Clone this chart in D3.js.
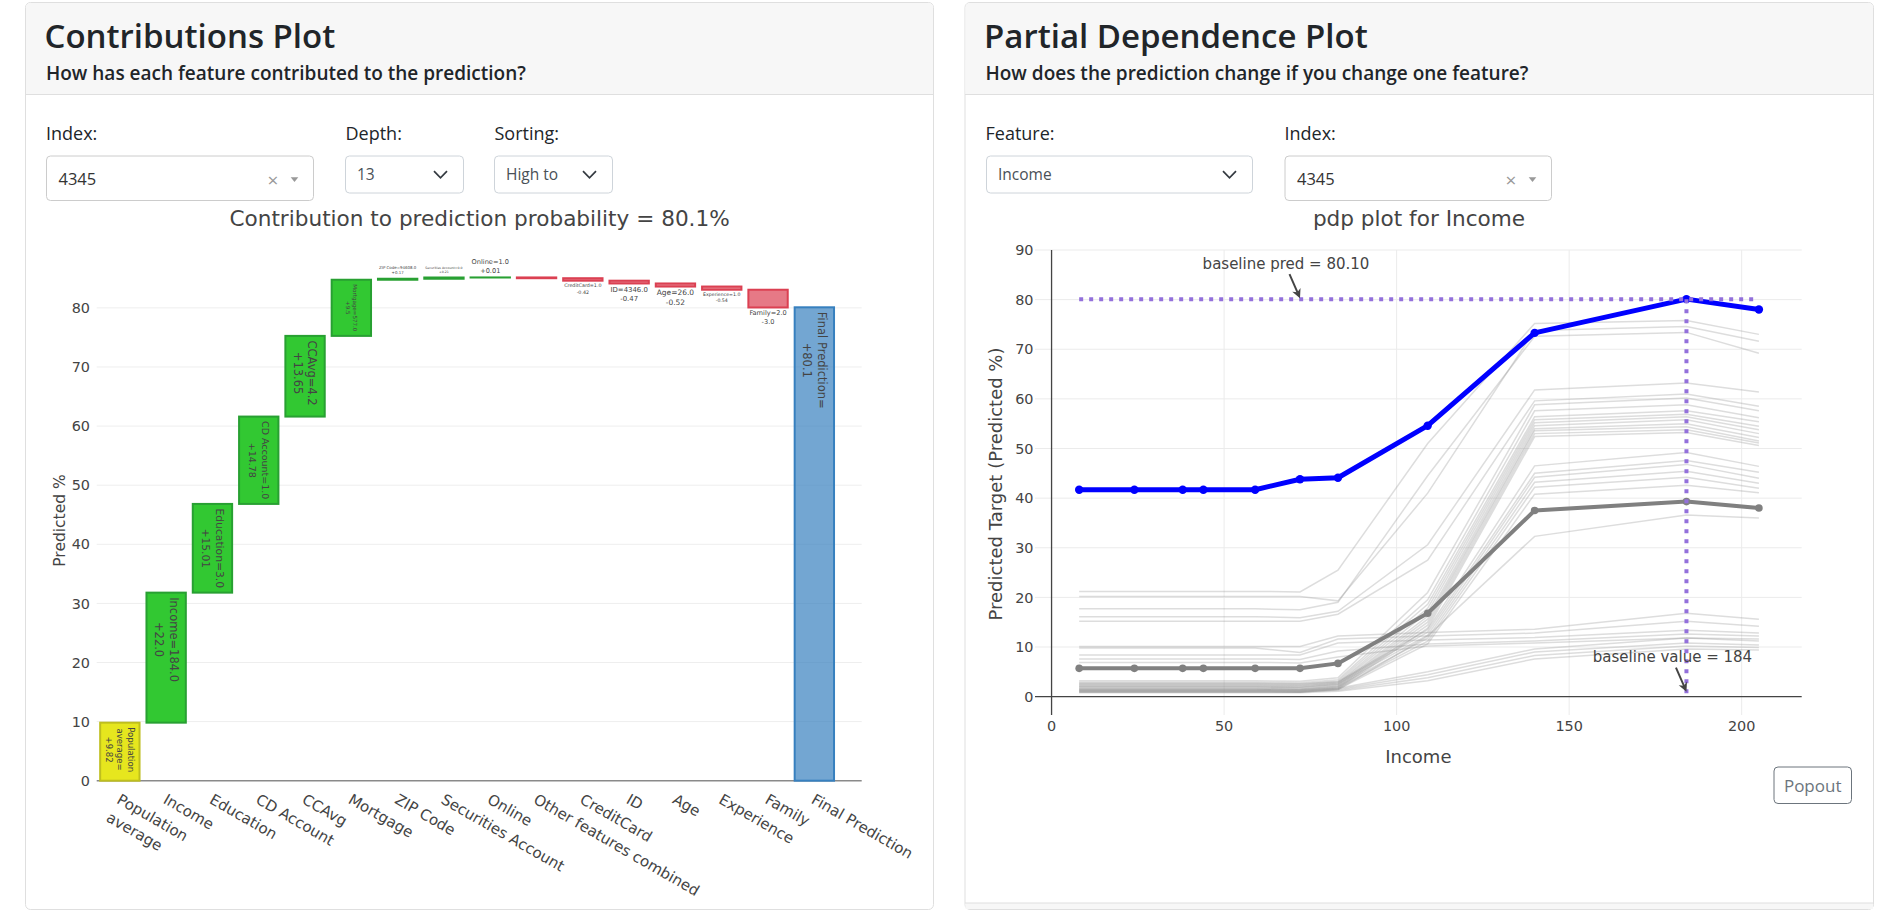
<!DOCTYPE html>
<html>
<head>
<meta charset="utf-8">
<script src="https://cdn.jsdelivr.net/npm/d3@7"></script>
<style>
    body { margin: 0; background: #fff; }
</style>
</head>
<body>
<svg id="page"></svg>
<script>
// ---- contributions (waterfall) data ----
const contribFeatures = ["Population<br>average", "Income", "Education", "CD Account", "CCAvg", "Mortgage",
    "ZIP Code", "Securities Account", "Online", "Other features combined", "CreditCard", "ID", "Age",
    "Experience", "Family", "Final Prediction"];
const contribValues = [9.82, 22.0, 15.01, 14.78, 13.65, 9.5, 0.17, 0.21, 0.01, -0.13, -0.42, -0.47, -0.52, -0.54, -3.0, 80.1];
const contribLabels = ["Population<br>average=<br>+9.82", "Income=184.0<br>+22.0", "Education=3.0<br>+15.01",
    "CD Account=1.0<br>+14.78", "CCAvg=4.2<br>+13.65", "Mortgage=577.0<br>+9.5", "ZIP Code=94608.0<br>+0.17",
    "Securities Account=0.0<br>+0.21", "Online=1.0<br>+0.01", "", "CreditCard=1.0<br>-0.42", "ID=4346.0<br>-0.47",
    "Age=26.0<br>-0.52", "Experience=1.0<br>-0.54", "Family=2.0<br>-3.0", "Final Prediction=<br>+80.1"];

// ---- partial dependence data ----
const pdpGrid  = [8, 24, 38, 44, 59, 72, 83, 109, 140, 184, 205];
const pdpIndex = [41.7, 41.7, 41.7, 41.7, 41.7, 43.8, 44.1, 54.6, 73.3, 80.1, 78.0];
const pdpMean  = [5.7, 5.7, 5.7, 5.7, 5.7, 5.7, 6.7, 16.8, 37.5, 39.3, 38.0];
const pdpIce = [
    [21.2, 21.2, 21.2, 21.2, 21.2, 21.1, 25.5, 51.0, 75.2, 75.8, 73.0],
    [20.2, 20.2, 20.2, 20.2, 20.2, 20.2, 19.3, 41.0, 73.8, 74.6, 71.6],
    [17.7, 17.7, 17.7, 17.7, 17.7, 17.5, 19.0, 44.5, 72.6, 73.4, 69.2],
    [16.1, 16.1, 16.1, 16.1, 16.1, 15.9, 17.2, 30.6, 61.8, 63.2, 61.4],
    [15.2, 15.2, 15.2, 15.2, 15.2, 15.2, 16.6, 27.5, 59.6, 61.0, 58.5],
    [3.2, 3.2, 3.2, 3.2, 3.2, 3.1, 3.8, 21.0, 58.8, 60.2, 57.6],
    [2.9, 2.9, 2.9, 2.9, 2.9, 2.8, 3.4, 19.5, 57.6, 58.8, 56.2],
    [2.6, 2.6, 2.6, 2.6, 2.6, 2.5, 3.1, 18.6, 56.4, 57.6, 55.4],
    [2.3, 2.3, 2.3, 2.3, 2.3, 2.2, 2.8, 17.8, 55.8, 56.9, 54.5],
    [2.1, 2.1, 2.1, 2.1, 2.1, 2.0, 2.6, 17.0, 55.2, 56.4, 53.8],
    [1.9, 1.9, 1.9, 1.9, 1.9, 1.8, 2.4, 16.2, 54.6, 55.8, 53.0],
    [1.7, 1.7, 1.7, 1.7, 1.7, 1.6, 2.2, 15.6, 54.0, 55.0, 52.2],
    [1.5, 1.5, 1.5, 1.5, 1.5, 1.4, 2.0, 15.0, 53.6, 54.4, 51.5],
    [1.3, 1.3, 1.3, 1.3, 1.3, 1.2, 1.8, 14.4, 53.0, 53.8, 51.1],
    [1.1, 1.1, 1.1, 1.1, 1.1, 1.0, 1.6, 13.8, 52.4, 53.2, 50.6],
    [2.7, 2.7, 2.7, 2.7, 2.7, 2.6, 3.0, 13.5, 46.5, 49.2, 46.4],
    [2.4, 2.4, 2.4, 2.4, 2.4, 2.3, 2.8, 13.0, 45.0, 47.6, 45.2],
    [2.0, 2.0, 2.0, 2.0, 2.0, 1.9, 2.5, 12.4, 44.2, 46.8, 44.0],
    [1.6, 1.6, 1.6, 1.6, 1.6, 1.5, 2.1, 11.8, 43.2, 45.4, 43.0],
    [1.3, 1.3, 1.3, 1.3, 1.3, 1.2, 1.8, 11.2, 42.2, 44.2, 42.0],
    [1.0, 1.0, 1.0, 1.0, 1.0, 0.9, 1.5, 10.6, 40.8, 42.6, 41.1],
    [0.9, 0.9, 0.9, 0.9, 0.9, 0.9, 1.4, 12.2, 32.3, 36.6, 36.0],
    [1.4, 1.4, 1.4, 1.4, 1.4, 1.4, 1.7, 5.0, 9.6, 11.8, 11.2],
    [1.2, 1.2, 1.2, 1.2, 1.2, 1.2, 1.5, 4.4, 9.0, 10.8, 10.4],
    [1.0, 1.0, 1.0, 1.0, 1.0, 1.0, 1.3, 3.8, 8.3, 10.2, 9.9],
    [0.8, 0.8, 0.8, 0.8, 0.8, 0.8, 1.1, 3.2, 7.6, 9.6, 9.4],
    [10.1, 10.1, 10.1, 10.1, 10.1, 10.1, 12.2, 12.9, 13.6, 16.8, 15.6],
    [9.8, 9.8, 9.8, 9.8, 9.8, 8.9, 11.6, 12.2, 12.8, 15.2, 14.2],
    [8.4, 8.4, 8.4, 8.4, 8.4, 8.4, 10.8, 11.4, 11.9, 13.4, 12.8],
    [7.6, 7.6, 7.6, 7.6, 7.6, 7.5, 9.2, 10.6, 11.2, 12.6, 12.2],
    [6.9, 6.9, 6.9, 6.9, 6.9, 6.8, 8.0, 10.2, 10.8, 11.8, 11.6]
];
const baselinePred = 80.10;
const baselineValue = 184;

function init() {
    const width = 1878;
    const height = 910;
    const uiFont = "'Open Sans', 'Noto Sans', sans-serif";
    const plotFont = "'DejaVu Sans', Verdana, sans-serif";

    const svg = d3.select("#page")
                  .attr("width", width)
                  .attr("height", height)
                  .style("display", "block");

    // ---------------- cards / bootstrap chrome ----------------
    function drawCard(x0, x1, title, subtitle) {
        const g = svg.append("g");
        g.append("rect")
         .attr("x", x0).attr("y", 2.5)
         .attr("width", x1 - x0).attr("height", 907)
         .attr("rx", 5)
         .attr("fill", "#fff").attr("stroke", "#dfdfdf");
        g.append("rect")
         .attr("x", x0 + 0.5).attr("y", 3)
         .attr("width", x1 - x0 - 1).attr("height", 91.5)
         .attr("rx", 4.5).attr("fill", "#f7f7f7");
        g.append("rect")
         .attr("x", x0 + 0.5).attr("y", 60)
         .attr("width", x1 - x0 - 1).attr("height", 34.5)
         .attr("fill", "#f7f7f7");
        g.append("line")
         .attr("x1", x0).attr("x2", x1)
         .attr("y1", 94.5).attr("y2", 94.5)
         .attr("stroke", "#dfdfdf");
        g.append("text")
         .attr("x", x0 + 19).attr("y", 47.7)
         .style("font-family", uiFont).style("font-size", "33px").style("font-weight", 600)
         .attr("fill", "#212529")
         .text(title);
        g.append("text")
         .attr("x", x0 + 20.5).attr("y", 80)
         .style("font-family", uiFont).style("font-size", "19px").style("font-weight", 600)
         .attr("fill", "#212529")
         .text(subtitle);
    }

    function label(x, text) {
        svg.append("text")
           .attr("x", x).attr("y", 140)
           .style("font-family", uiFont).style("font-size", "18px")
           .attr("fill", "#212529")
           .text(text);
    }

    // bootstrap custom-select with chevron
    function selectBox(x, w, text) {
        const g = svg.append("g");
        g.append("rect")
         .attr("x", x).attr("y", 156).attr("width", w).attr("height", 37)
         .attr("rx", 4).attr("fill", "#fff").attr("stroke", "#ced4da");
        g.append("text")
         .attr("x", x + 11.5).attr("y", 180)
         .style("font-family", uiFont).style("font-size", "15.5px")
         .attr("fill", "#495057")
         .text(text);
        const cx = x + w - 23, cy = 174.5;
        g.append("path")
         .attr("d", `M${cx - 6.5},${cy - 3.3} L${cx},${cy + 3.3} L${cx + 6.5},${cy - 3.3}`)
         .attr("fill", "none").attr("stroke", "#343a40").attr("stroke-width", 1.7);
    }

    // react-select style dropdown with clear cross and caret
    function reactSelect(x, w, text) {
        const g = svg.append("g");
        g.append("rect")
         .attr("x", x).attr("y", 156).attr("width", w).attr("height", 44.5)
         .attr("rx", 4).attr("fill", "#fff").attr("stroke", "#cccccc");
        g.append("text")
         .attr("x", x + 12).attr("y", 185)
         .style("font-family", uiFont).style("font-size", "16.5px")
         .attr("fill", "#333")
         .text(text);
        g.append("text")
         .attr("x", x + w - 40.5).attr("y", 186.5)
         .attr("text-anchor", "middle")
         .style("font-family", uiFont).style("font-size", "19px")
         .attr("fill", "#999")
         .text("×");
        const cx = x + w - 19, cy = 179.5;
        g.append("path")
         .attr("d", `M${cx - 3.8},${cy - 2.2} L${cx + 3.8},${cy - 2.2} L${cx},${cy + 2.4} Z`)
         .attr("fill", "#999");
    }

    drawCard(25.5, 933.5, "Contributions Plot", "How has each feature contributed to the prediction?");
    drawCard(965, 1873.5, "Partial Dependence Plot", "How does the prediction change if you change one feature?");

    // footer strip of the right card
    svg.append("rect").attr("x", 965.5).attr("y", 903).attr("width", 907.5).attr("height", 6)
       .attr("fill", "#f7f7f7");
    svg.append("line").attr("x1", 965).attr("x2", 1873.5).attr("y1", 903).attr("y2", 903)
       .attr("stroke", "#dfdfdf");

    label(46, "Index:");
    label(345.5, "Depth:");
    label(494.5, "Sorting:");
    reactSelect(46.5, 267, "4345");
    selectBox(345.5, 118, "13");
    selectBox(494.5, 118, "High to");

    label(985.5, "Feature:");
    label(1284.5, "Index:");
    selectBox(986.5, 266, "Income");
    reactSelect(1285, 266.5, "4345");

    // Popout button
    svg.append("rect")
       .attr("x", 1774).attr("y", 767).attr("width", 77.5).attr("height", 36.5)
       .attr("rx", 4).attr("fill", "#fff").attr("stroke", "#6c757d");
    svg.append("text")
       .attr("x", 1812.7).attr("y", 791.5)
       .attr("text-anchor", "middle")
       .style("font-family", uiFont).style("font-size", "17px")
       .attr("fill", "#6c757d")
       .text("Popout");

    // ---------------- contributions plot ----------------
    const cLeft = 96.7, cRight = 861.7;

    const x = d3.scaleBand()
                .domain(contribFeatures)
                .range([cLeft, 837.5])
                .paddingInner(0.15)
                .paddingOuter(0.075);

    const y = d3.scaleLinear()
                .domain([0, 88])
                .range([780.7, 260.6]);

    svg.append("text")
       .attr("x", 479.6).attr("y", 225.5)
       .attr("text-anchor", "middle")
       .style("font-family", plotFont).style("font-size", "21.6px")
       .attr("fill", "#444")
       .text("Contribution to prediction probability = 80.1%");

    const cTicks = y.ticks(9);

    svg.append("g")
       .selectAll("line")
       .data(cTicks.filter(d => d > 0))
       .enter()
       .append("line")
       .attr("x1", cLeft).attr("x2", cRight)
       .attr("y1", d => y(d)).attr("y2", d => y(d))
       .attr("stroke", "#eeeeee").attr("stroke-width", 1);

    svg.append("g")
       .selectAll("text")
       .data(cTicks)
       .enter()
       .append("text")
       .attr("x", 90).attr("y", d => y(d))
       .attr("dy", "0.36em")
       .attr("text-anchor", "end")
       .style("font-family", plotFont).style("font-size", "14.4px")
       .attr("fill", "#444")
       .text(d => d);

    svg.append("line")
       .attr("x1", cLeft).attr("x2", cRight)
       .attr("y1", y(0)).attr("y2", y(0))
       .attr("stroke", "#8a8a8a").attr("stroke-width", 1.6);

    svg.append("text")
       .attr("transform", `translate(65,520.5) rotate(-90)`)
       .attr("text-anchor", "middle")
       .style("font-family", plotFont).style("font-size", "15.5px")
       .attr("fill", "#444")
       .text("Predicted %");

    // waterfall bases
    let running = 0;
    const bars = contribFeatures.map((f, i) => {
        const v = contribValues[i];
        const last = i === contribFeatures.length - 1;
        const base = last ? 0 : running;
        if (!last) running += v;
        let kind = v >= 0 ? "pos" : "neg";
        if (i === 0) kind = "base";
        if (last) kind = "final";
        return { feature: f, value: v, base: base, end: base + v, label: contribLabels[i], kind: kind };
    });

    const fills = { base: "rgba(230,230,30,1)", pos: "rgba(50,200,50,1)", neg: "rgba(219,64,82,0.7)", final: "rgba(55,128,191,0.7)" };
    const strokes = { base: "rgb(190,190,30)", pos: "rgb(40,160,50)", neg: "rgb(219,64,82)", final: "rgb(55,128,191)" };

    const bw = x.bandwidth();

    svg.append("g")
       .selectAll("rect")
       .data(bars)
       .enter()
       .append("rect")
       .attr("x", d => x(d.feature))
       .attr("width", bw)
       .attr("y", d => y(Math.max(d.base, d.end)))
       .attr("height", d => Math.abs(y(d.base) - y(d.end)))
       .attr("fill", d => fills[d.kind])
       .attr("stroke", d => strokes[d.kind])
       .attr("stroke-width", 2);

    // bar labels, shrunk to fit like plotly does
    const labelG = svg.append("g")
                      .style("font-family", plotFont)
                      .attr("fill", "#444");
    const baseSize = 11.5;
    const lh = 1.3;

    bars.forEach(d => {
        if (!d.label) return;
        const lines = d.label.split("<br>");
        const n = lines.length;
        const top = y(Math.max(d.base, d.end));
        const bottom = y(Math.min(d.base, d.end));
        const h = bottom - top;
        const cx = x(d.feature) + bw / 2;
        const g = labelG.append("g");
        const texts = lines.map(l => g.append("text")
                                      .attr("text-anchor", "middle")
                                      .style("font-size", baseSize + "px")
                                      .text(l));
        const maxLen = d3.max(texts, t => t.node().getComputedTextLength());

        if (h > 20) {
            // inside, rotated, anchored at the top of the bar
            const pad = 4.5;
            const s = Math.min(1, (h - 2 * pad) / maxLen, (bw - 6) / (n * lh * baseSize));
            const fs = baseSize * s;
            g.attr("transform", `translate(${cx},${top + pad}) rotate(90)`);
            texts.forEach((t, i) => {
                t.style("font-size", fs + "px")
                 .attr("x", maxLen * s / 2)
                 .attr("y", (i - (n - 1) / 2) * lh * fs)
                 .attr("dy", "0.35em");
            });
        } else {
            // outside, horizontal
            const s = Math.min(1, (bw - 2) / maxLen);
            const fs = baseSize * s;
            texts.forEach((t, i) => {
                t.style("font-size", fs + "px").attr("x", cx);
                if (d.value >= 0) {
                    t.attr("y", top - 4.5 - (n - 1 - i) * lh * fs);
                } else {
                    t.attr("y", bottom + 3 + 0.76 * fs + i * lh * fs);
                }
            });
        }
    });

    // x tick labels at 30 degrees
    const xLab = svg.append("g")
                    .style("font-family", plotFont)
                    .style("font-size", "15px")
                    .attr("fill", "#444");
    contribFeatures.forEach(f => {
        const t = xLab.append("text")
                      .attr("transform", `translate(${x(f) + bw / 2 - 4},802.4) rotate(30)`)
                      .attr("text-anchor", "start");
        f.split("<br>").forEach((part, i) => {
            t.append("tspan").attr("x", 0).attr("y", i * 21).text(part);
        });
    });

    // ---------------- partial dependence plot ----------------
    const pLeft = 1035, pRight = 1801.7, pTop = 250, pBottom = 715;

    const xR = d3.scaleLinear().domain([-4.8, 217.4]).range([pLeft, pRight]);
    const yR = d3.scaleLinear().domain([-3.7, 90]).range([pBottom, pTop]);

    svg.append("text")
       .attr("x", 1419).attr("y", 225.5)
       .attr("text-anchor", "middle")
       .style("font-family", plotFont).style("font-size", "21.6px")
       .attr("fill", "#444")
       .text("pdp plot for Income");

    const xTicks = xR.ticks(5);
    const yTicks = yR.ticks(10).filter(d => d >= 0);

    const grid = svg.append("g").attr("stroke", "#ebebeb").attr("stroke-width", 1);
    grid.selectAll("line.v")
        .data(xTicks.filter(d => d !== 0))
        .enter()
        .append("line")
        .attr("x1", d => xR(d)).attr("x2", d => xR(d))
        .attr("y1", pTop).attr("y2", pBottom);
    grid.selectAll("line.h")
        .data(yTicks.filter(d => d !== 0))
        .enter()
        .append("line")
        .attr("x1", pLeft).attr("x2", pRight)
        .attr("y1", d => yR(d)).attr("y2", d => yR(d));

    svg.append("line")
       .attr("x1", xR(0)).attr("x2", xR(0)).attr("y1", pTop).attr("y2", pBottom)
       .attr("stroke", "#444").attr("stroke-width", 1.3);
    svg.append("line")
       .attr("x1", pLeft).attr("x2", pRight).attr("y1", yR(0)).attr("y2", yR(0))
       .attr("stroke", "#444").attr("stroke-width", 1.3);

    svg.append("g")
       .selectAll("text")
       .data(yTicks)
       .enter()
       .append("text")
       .attr("x", 1033.5).attr("y", d => yR(d))
       .attr("dy", "0.36em")
       .attr("text-anchor", "end")
       .style("font-family", plotFont).style("font-size", "14.4px")
       .attr("fill", "#444")
       .text(d => d);

    svg.append("g")
       .selectAll("text")
       .data(xTicks)
       .enter()
       .append("text")
       .attr("x", d => xR(d)).attr("y", 731)
       .attr("text-anchor", "middle")
       .style("font-family", plotFont).style("font-size", "14.4px")
       .attr("fill", "#444")
       .text(d => d);

    svg.append("text")
       .attr("x", (pLeft + pRight) / 2).attr("y", 763)
       .attr("text-anchor", "middle")
       .style("font-family", plotFont).style("font-size", "18px")
       .attr("fill", "#444")
       .text("Income");

    svg.append("text")
       .attr("transform", `translate(1002,484) rotate(-90)`)
       .attr("text-anchor", "middle")
       .style("font-family", plotFont).style("font-size", "18px")
       .attr("fill", "#444")
       .text("Predicted Target (Predicted %)");

    const line = d3.line()
                   .x((d, i) => xR(pdpGrid[i]))
                   .y(d => yR(d));

    svg.append("g")
       .selectAll("path")
       .data(pdpIce)
       .enter()
       .append("path")
       .attr("d", line)
       .attr("fill", "none")
       .attr("stroke", "#909090")
       .attr("stroke-opacity", 0.3)
       .attr("stroke-width", 1.5);

    function drawSeries(values, color, lw, r) {
        svg.append("path")
           .attr("d", line(values))
           .attr("fill", "none")
           .attr("stroke", color)
           .attr("stroke-width", lw)
           .attr("stroke-linejoin", "round");
        svg.append("g")
           .selectAll("circle")
           .data(values)
           .enter()
           .append("circle")
           .attr("cx", (d, i) => xR(pdpGrid[i]))
           .attr("cy", d => yR(d))
           .attr("r", r)
           .attr("fill", color);
    }
    drawSeries(pdpMean, "#808080", 4, 3.8);
    drawSeries(pdpIndex, "#0000ff", 5, 4.2);

    // baseline markers
    const purple = "#9370db";
    svg.append("line")
       .attr("x1", xR(pdpGrid[0])).attr("x2", xR(pdpGrid[pdpGrid.length - 1]))
       .attr("y1", yR(baselinePred)).attr("y2", yR(baselinePred))
       .attr("stroke", purple).attr("stroke-width", 4).attr("stroke-dasharray", "4,6");
    svg.append("line")
       .attr("x1", xR(baselineValue)).attr("x2", xR(baselineValue))
       .attr("y1", yR(baselinePred)).attr("y2", yR(0))
       .attr("stroke", purple).attr("stroke-width", 4).attr("stroke-dasharray", "4,6");

    function annotate(tipX, tipY, text) {
        const tx = tipX - 10.5, ty = tipY - 24;
        const ang = Math.atan2(tipY - ty, tipX - tx) * 180 / Math.PI;
        const len = Math.hypot(tipX - tx, tipY - ty);
        const g = svg.append("g").attr("transform", `translate(${tx},${ty}) rotate(${ang})`);
        g.append("line")
         .attr("x1", 0).attr("x2", len - 6)
         .attr("y1", 0).attr("y2", 0)
         .attr("stroke", "#444").attr("stroke-width", 2);
        g.append("path")
         .attr("d", `M${len},0 L${len - 9},-4.5 L${len - 6.5},0 L${len - 9},4.5 Z`)
         .attr("fill", "#444");
        svg.append("text")
           .attr("x", tx - 3.5).attr("y", ty - 5.5)
           .attr("text-anchor", "middle")
           .style("font-family", plotFont).style("font-size", "15px")
           .attr("fill", "#444")
           .text(text);
    }
    annotate(xR(pdpGrid[Math.floor(pdpGrid.length / 2)]), yR(baselinePred) - 1, `baseline pred = ${baselinePred.toFixed(2)}`);
    annotate(xR(baselineValue), yR(0) - 5, `baseline value = ${baselineValue}`);
}

window.onload = init;
</script>
</body>
</html>
